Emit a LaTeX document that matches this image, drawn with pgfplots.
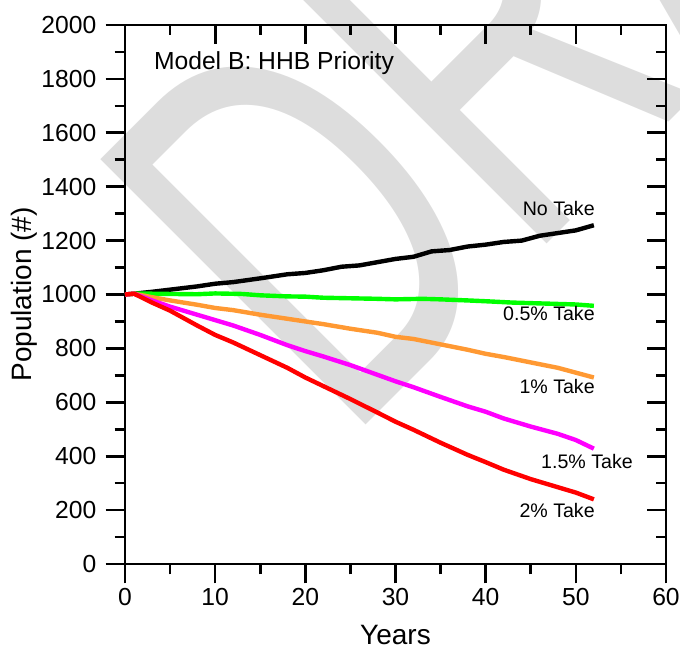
\documentclass[border=0pt]{standalone}
\usepackage{pgfplots}
\pgfplotsset{compat=1.18}
\usepackage{fontspec}
\setmainfont{Liberation Sans}
\usepackage{graphicx}

\definecolor{wm}{RGB}{221,221,221}
\definecolor{takeorange}{RGB}{255,153,51}
\definecolor{takegreen}{RGB}{0,255,0}
\definecolor{takemagenta}{RGB}{255,0,255}
\definecolor{takered}{RGB}{255,0,0}

\pgfplotsset{
  frame/.style={
    scale only axis, width=405.75pt, height=404.25pt,
    xmin=0, xmax=60, ymin=0, ymax=2000,
    xtick={0,10,...,60}, ytick={0,200,...,2000},
    minor x tick num=1, minor y tick num=1,
    major tick length=14.5pt, minor tick length=7.8pt,
    every tick/.style={black, line width=2pt},
    axis line style={line width=2.2pt},
    /pgf/number format/assume math mode=true,
    /pgf/number format/1000 sep={},
    scaled ticks=false,
  }
}

\begin{document}
\begin{tikzpicture}
% watermark behind everything
\node[rotate=45, anchor=base west, inner sep=0pt, text=wm,
      font=\fontsize{409}{409}\selectfont] at (165pt,89pt) {\scalebox{0.65}[1]{DRAFT}};

\begin{axis}[frame,
  tick align=outside, tick pos=left,
  ticklabel style={font=\fontsize{18.5}{18.5}\selectfont},
  yticklabel style={xshift=-3.5pt},
  xlabel={Years},
  xlabel style={at={(axis description cs:0.5,-0.1492)}, anchor=base,
                font=\fontsize{21}{21}\selectfont},
  ylabel={Population (\#)},
  ylabel style={at={(axis description cs:-0.1719,0.5)}, anchor=base,
                font=\fontsize{21}{21}\selectfont},
]
\addplot[black, line width=3.3pt, line join=round] coordinates {
(0,1000)(1,1003)(3,1010)(5,1018)(8,1030)(10,1040)(12,1046)(15,1060)(18,1075)
(20,1080)(22,1090)(24,1103)(26,1108)(28,1120)(30,1132)(32,1140)(34,1160)
(36,1165)(38,1178)(40,1185)(42,1195)(44,1200)(46,1218)(48,1228)(50,1238)(52,1257)};
\addplot[takegreen, line width=3.3pt, line join=round] coordinates {
(0,1000)(1,1003)(3,1003)(5,1002)(8,1001)(10,1004)(13,1002)(15,997)(18,993)
(20,992)(22,988)(25,986)(28,984)(30,982)(33,984)(35,982)(38,978)(40,975)
(43,970)(45,968)(48,965)(50,963)(52,958)};
\addplot[takeorange, line width=3.3pt, line join=round] coordinates {
(0,1000)(1,1003)(3,990)(5,978)(8,962)(10,950)(12,942)(15,925)(18,910)(20,900)
(22,890)(25,873)(28,858)(30,843)(32,835)(35,815)(38,795)(40,780)(42,768)
(45,748)(48,728)(50,710)(52,692)};
\addplot[takemagenta, line width=3.3pt, line join=round] coordinates {
(0,1000)(1,1003)(3,978)(5,955)(8,925)(10,905)(12,885)(15,850)(18,812)(20,790)
(22,770)(25,738)(28,702)(30,678)(32,656)(35,620)(38,585)(40,565)(42,540)
(45,510)(48,483)(50,460)(52,428)};
\addplot[takered, line width=3.3pt, line join=round] coordinates {
(0,1000)(1,1003)(3,970)(5,940)(8,885)(10,850)(12,822)(15,775)(18,728)(20,692)
(22,660)(25,612)(28,562)(30,528)(32,498)(35,450)(38,405)(40,378)(42,350)
(45,315)(48,285)(50,265)(52,240)};

\node[anchor=base west, font=\fontsize{18.5}{18.5}\selectfont] at (axis cs:2.7,1836) {Model B: HHB Priority};
\begin{scope}[every node/.style={anchor=base east, font=\fontsize{14.7}{14.7}\selectfont, inner sep=0pt}]
\node at (axis cs:52.12,1295) {No Take};
\node at (axis cs:52.12,902) {0.5\% Take};
\node at (axis cs:52.12,631) {1\% Take};
\node at (axis cs:56.34,356) {1.5\% Take};
\node at (axis cs:52.12,174) {2\% Take};
\end{scope}
\end{axis}

% inside ticks on the top and right
\begin{axis}[frame,
  tick align=inside, tick pos=right,
  xticklabels={}, yticklabels={},
  axis line style={draw=none},
]
\end{axis}

\pgfresetboundingbox
\useasboundingbox (-93.75pt,-60pt) rectangle (416.25pt,423pt);
\end{tikzpicture}
\end{document}
